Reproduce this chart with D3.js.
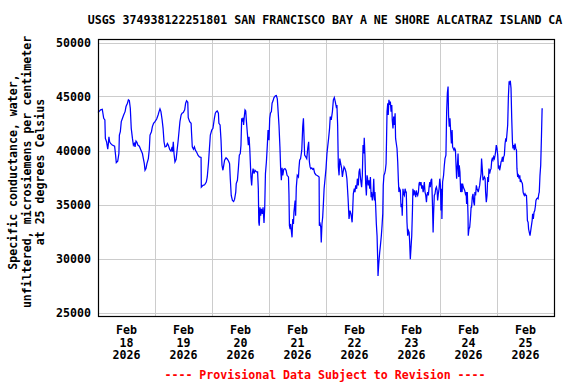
<!DOCTYPE html>
<html><head><meta charset="utf-8">
<script src="https://cdn.jsdelivr.net/npm/d3@7"></script>
<style>
body{margin:0;background:#fff;}
svg text{font-family:"DejaVu Sans Mono",monospace;font-weight:bold;font-size:11.6px;}
</style></head>
<body><svg id="c" width="576" height="384"></svg>
<script>
const titleText = "USGS 374938122251801 SAN FRANCISCO BAY A NE SHORE ALCATRAZ ISLAND CA";
const yLabelLines = ["Specific conductance, water,", "unfiltered, microsiemens per centimeter", "at 25 degrees Celsius"];
const footerText = "---- Provisional Data Subject to Revision ----";
const yTicks = [25000, 30000, 35000, 40000, 45000, 50000];
const dayLabels = ["18","19","20","21","22","23","24","25"];
const monthLabel = "Feb";
const yearLabel = "2026";
// hours since 2026-02-18 00:00
const hours = [0,0.4,1.1,1.8,2.4,2.9,3.1,3.6,4.1,4.3,4.6,4.9,5.3,6.0,7.0,7.4,7.7,8.3,8.8,9.0,9.4,9.8,10.2,10.8,11.4,11.8,12.4,12.8,13.2,13.6,14.0,14.5,14.9,15.3,15.6,16.0,16.4,16.8,17.4,18.1,18.7,19.1,19.5,19.8,20.2,20.6,21.2,21.6,21.9,22.5,22.9,23.4,24.0,24.7,25.3,25.7,26.1,26.5,27.0,27.4,27.8,28.2,28.8,29.2,29.6,30.2,30.7,31.2,31.4,31.7,32.0,32.4,32.9,33.3,33.7,34.1,34.5,35.0,35.4,35.9,36.5,36.9,37.3,37.8,38.0,38.6,39.2,39.4,39.7,40.2,40.6,41.0,41.6,42.1,42.7,43.4,43.5,44.2,44.9,45.6,46.0,46.5,46.9,47.3,47.9,
48.4,49.0,49.4,49.8,50.2,50.7,50.9,51.4,51.8,52.2,52.6,52.9,53.3,53.9,54.5,55.0,55.4,55.7,56.1,56.6,57.1,57.5,58.0,58.2,58.7,59.1,59.5,59.9,60.2,60.5,60.8,61.1,61.3,61.6,61.9,62.2,62.5,62.9,63.3,63.6,63.9,64.1,64.4,64.7,65.0,65.3,65.7,66.1,66.7,67.2,67.5,67.7,67.9,68.2,68.5,68.8,69.2,69.5,69.9,70.2,70.5,70.9,71.3,71.6,72.0,72.3,72.6,73.0,73.3,73.7,74.1,74.7,75.1,75.5,75.8,76.2,76.6,76.9,77.2,77.5,77.8,78.2,78.7,79.2,79.6,80.2,80.4,80.6,80.9,81.1,81.4,81.7,82.0,82.3,82.5,83.0,83.2,83.5,83.9,84.4,84.6,84.9,85.3,85.8,86.2,86.5,86.7,87.0,87.5,87.9,88.3,88.7,89.0,89.3,89.6,90.0,90.4,90.8,91.2,91.7,92.1,92.6,93.1,93.2,93.5,93.8,94.0,94.3,94.6,94.9,95.2,95.6,96.0,96.4,
96.7,97.1,97.5,97.8,98.2,98.7,99.1,99.5,99.9,100.3,100.6,100.9,101.2,101.5,101.8,102.2,102.6,102.9,103.2,103.6,104.0,104.4,104.8,105.3,105.7,106.1,106.5,107.0,107.2,107.5,107.9,108.2,108.5,108.9,109.2,109.6,109.9,110.2,110.5,110.7,111.0,111.3,111.6,111.9,112.1,112.4,112.7,113.0,113.3,113.5,113.8,114.1,114.4,114.7,115.0,115.2,115.5,115.8,116.1,116.4,116.6,116.9,117.2,117.5,117.8,117.9,118.2,118.6,118.9,119.3,119.6,119.9,120.1,120.4,120.7,121.0,121.3,121.5,121.7,122.0,122.2,122.5,122.8,123.1,123.4,123.7,123.9,124.2,124.5,124.8,125.1,125.3,125.6,125.9,126.2,126.5,126.7,127.0,127.3,127.6,127.9,128.1,128.4,128.7,129.0,129.3,129.6,129.8,130.1,130.4,130.7,131.0,131.2,131.5,131.8,132.1,132.4,132.6,132.9,133.2,133.5,133.8,134.0,134.3,134.6,134.9,135.2,135.4,135.7,136.0,136.3,136.6,136.9,137.1,137.4,137.7,138.0,138.3,138.5,138.8,139.1,139.4,139.7,139.9,140.2,140.5,140.8,141.1,141.3,141.6,141.9,142.2,142.5,142.8,143.0,143.3,143.6,143.9,144.2,144.4,
144.7,144.8,145.1,145.5,145.8,146.1,146.5,146.8,147.1,147.4,147.6,147.9,148.2,148.5,148.8,149.1,149.3,149.6,149.9,150.2,150.5,150.7,151.0,151.3,151.6,151.9,152.1,152.4,152.7,153.0,153.3,153.5,153.8,154.1,154.4,154.7,155.0,155.2,155.5,155.8,155.9,156.2,156.5,156.8,157.1,157.3,157.6,157.9,158.2,158.5,158.7,159.0,159.3,159.6,159.9,160.1,160.4,160.7,161.0,161.3,161.5,161.8,162.1,162.4,162.7,163.0,163.2,163.5,163.8,164.1,164.4,164.6,164.9,165.2,165.5,165.8,166.0,166.3,166.6,166.9,167.2,167.4,167.7,168.0,168.3,168.6,168.8,169.1,169.4,169.7,170.0,170.3,170.5,170.8,171.1,171.4,171.7,171.9,172.2,172.5,172.8,173.1,173.3,173.6,173.9,174.2,174.5,174.7,175.0,175.3,175.6,175.9,176.2,176.4,176.7,177.0,177.3,177.6,177.8,178.1,178.4,178.7,179.0,179.2,179.5,179.8,180.1,180.4,180.6,180.8,181.1,181.3,181.6,181.9,182.2,182.5,182.8,183.0,183.3,183.6,183.9,184.2,184.4,184.7,185.0,185.3,185.6,185.8,186.1,186.4,186.7,187.0,187.1];
const conductance = [43520,43600,43760,43820,42980,42830,41120,40810,40120,40500,41270,40810,40650,40500,40400,39570,38880,39010,39720,41430,41740,42670,42920,43290,43600,44070,44380,44690,44630,43910,42050,41120,40500,40650,40340,40870,40750,40500,40400,40030,39720,39250,38790,38170,38320,38790,39250,40120,41430,41740,42210,42520,42670,42920,43290,43600,43850,43600,42830,42050,40810,40340,40400,40650,40500,40090,39940,40340,39880,40810,39720,38940,39190,40030,40810,41740,42670,43290,43450,43510,43760,44380,44600,44470,43040,42670,42520,41580,40340,40120,40340,40030,39810,39570,39410,39350,36610,36770,36830,37080,37550,38790,40120,41430,41890,
42050,42980,43450,43600,43670,43450,42520,42360,40960,38630,38170,38570,39100,39320,39190,39010,38790,37390,35840,35370,35280,35470,36150,36930,37240,38320,39570,39720,40500,42980,42670,43040,42360,43140,43760,43670,42670,41580,40500,41270,40190,39100,37550,36770,37860,38320,37860,38170,38010,38010,36460,33350,33040,34750,33970,34600,34130,34750,33290,34750,37860,38940,40500,41890,40960,42980,43450,43600,44380,44600,44910,45060,45090,44780,43760,42360,40340,38390,37240,38390,37700,38260,38320,38170,37700,37550,35990,33040,32730,33200,32580,31960,33660,33200,34290,35370,33970,36610,37700,37550,38320,39100,39250,40030,42210,42980,41580,39570,39410,39250,40190,40810,38940,38480,38320,38390,38260,38320,37920,37760,37700,37640,37550,33040,33200,32890,31490,33200,33820,35060,36460,37390,38320,39720,
40340,41120,42050,43140,42830,43600,44690,44910,44530,44070,44220,42360,38480,37700,39250,38790,38320,37550,38010,38480,38320,38010,37390,35530,33660,34440,34130,33350,34290,35990,36460,36150,36770,36460,37390,36770,38010,38320,37550,37080,36610,37700,40500,39720,41180,39570,36930,35840,37700,37390,36770,37240,36460,37550,35680,36150,35370,35840,37390,35370,36150,34910,33200,32110,29630,28380,29470,30560,31180,32110,33040,34130,36770,37700,37860,38170,38790,41120,43600,44380,43290,44690,44220,44530,43600,44220,42830,42050,43140,42360,43450,41120,40650,40190,38940,37080,36150,36460,36300,34750,35060,33970,36460,35990,35840,36460,36150,36150,33350,32110,32580,32420,31640,29940,31020,32110,34440,36460,35840,36300,35990,35680,36300,35990,35840,36150,36930,37080,36770,37080,36460,36770,36150,36460,37080,36150,35840,35220,35840,36150,35840,36610,37080,36610,37240,37390,35220,32420,34130,35840,35990,36460,36610,36300,35370,35990,36460,37390,36770,34440,
36460,33660,37080,37700,38570,39250,39570,43600,45310,45930,43290,42210,42980,41740,40650,41890,40340,40190,40030,40190,40030,38940,37390,38480,39720,37550,38630,38010,36150,36930,36150,36930,36610,36460,36300,35990,36150,35060,36150,33970,32110,32730,32890,33660,34750,34750,35680,35990,35220,34910,36150,35840,36770,36460,36300,36150,36460,36770,37390,37860,39250,38320,37240,37390,37550,37390,36150,35220,35840,37550,37080,38320,37860,38170,38320,39100,39250,39100,39410,39250,39570,39880,40500,40190,39570,38320,38630,38170,38480,38940,39100,39410,38940,39410,39570,40650,41120,40810,41580,42360,45000,46400,46090,46460,45780,42980,40810,40190,40500,40030,40650,40190,40030,38320,37550,37700,37390,37700,37080,37240,37080,36930,36150,35990,35840,35990,35840,35840,34910,33510,33350,32730,32420,32110,32580,33040,33510,34130,33660,34290,34440,34910,35370,35530,35590,35530,35990,36150,37700,38630,41120,43910,43760];

const t0 = Date.UTC(2026, 1, 18);
const data = hours.map((h, i) => ({t: new Date(t0 + h * 3600e3), v: conductance[i]}));

const svg = d3.select("#c");
const L = 98, R = 554, T = 39, B = 316;
const x = d3.scaleUtc().domain([new Date(t0), new Date(t0 + 8 * 86400e3)]).range([L, R]);
const y = d3.scaleLinear().domain([25000, 50000]).range([312.5, 42.5]);

// grid
const dayLines = d3.range(1, 8).map(d => new Date(t0 + d * 86400e3));
svg.append("g").selectAll("line").data(yTicks).join("line")
  .attr("x1", L).attr("x2", R)
  .attr("y1", d => Math.round(y(d)) + 0.5).attr("y2", d => Math.round(y(d)) + 0.5)
  .attr("stroke", "#cccccc").attr("stroke-width", 1);
svg.append("g").selectAll("line").data(dayLines).join("line")
  .attr("x1", d => Math.round(x(d)) + 0.5).attr("x2", d => Math.round(x(d)) + 0.5)
  .attr("y1", T).attr("y2", B)
  .attr("stroke", "#cccccc").attr("stroke-width", 1);

// data line
svg.append("path").datum(data)
  .attr("d", d3.line().x(d => x(d.t)).y(d => y(d.v)))
  .attr("fill", "none").attr("stroke", "#0000ff").attr("stroke-width", 1.25);

// frame
svg.append("rect").attr("x", L + 0.5).attr("y", T + 0.5).attr("width", R - L).attr("height", B - T)
  .attr("fill", "none").attr("stroke", "#000").attr("stroke-width", 1.2);

// y axis labels
const yAxis = svg.append("g").attr("transform", `translate(${L},0)`)
  .call(d3.axisLeft(y).tickValues(yTicks).tickFormat(d3.format("d")).tickSize(0).tickPadding(7));
yAxis.select(".domain").remove();
yAxis.selectAll("text").attr("fill", "#000").attr("dy", "0.36em")
  .style("font-family", '"DejaVu Sans Mono",monospace').style("font-weight", "bold").style("font-size", "11.6px");

// x labels: centered at noon of each day
const noon = dayLabels.map((d, i) => new Date(t0 + (i + 0.5) * 86400e3));
const xl = svg.append("g").selectAll("text").data(noon).join("text")
  .attr("x", d => x(d)).attr("text-anchor", "middle").attr("fill", "#000");
xl.append("tspan").attr("x", d => x(d)).attr("y", 334).text(monthLabel);
xl.append("tspan").attr("x", d => x(d)).attr("y", 346.7).text((d, i) => dayLabels[i]);
xl.append("tspan").attr("x", d => x(d)).attr("y", 359.3).text(yearLabel);

// title
svg.append("text").attr("x", 325).attr("y", 24).attr("text-anchor", "middle").attr("fill", "#000").text(titleText);

// y label
const yl = svg.append("text").attr("transform", "translate(0,172) rotate(-90)").attr("text-anchor", "middle").attr("fill", "#000");
yLabelLines.forEach((s, i) => yl.append("tspan").attr("x", 0).attr("y", 17 + i * 13.5).text(s));

// footer
svg.append("text").attr("x", 325).attr("y", 379).attr("text-anchor", "middle").attr("fill", "#ff0000").text(footerText);
</script></body></html>
